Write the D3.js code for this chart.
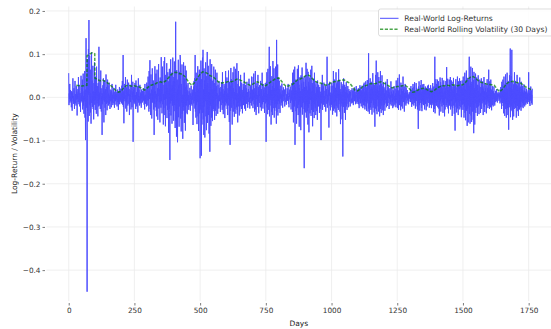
<!DOCTYPE html>
<html>
<head>
<meta charset="utf-8">
<script src="https://cdn.jsdelivr.net/npm/d3@7"></script>
<style>
  html, body { margin: 0; padding: 0; background: #fff; }
  svg { display: block; font-family: "DejaVu Sans", sans-serif; }
</style>
</head>
<body>
<svg id="chart" width="551" height="329"></svg>
<script>
// Daily log-returns, in thousandths (day index = position in the list)
const logReturnsPermille = [
  56,-18,9,-4,31,-12,5,17,-8,2,-23,14,6,-31,11,-2,44,-9,3,-15,21,-6,-27,12,38,-14,7,1,-19,26,-5,13,-42,8,-3,19,-11,47,4,-16,29,-7,-21,10,3,-34,15,50,-9,6,
  23,-12,41,-28,7,55,-19,3,-38,14,-9,61,-47,18,-99,32,137,-24,45,12,-450,88,-31,27,-56,112,6,179,-43,21,97,-18,64,-35,9,-61,28,104,-13,39,-22,5,73,-27,14,-51,33,-8,81,-17,
  12,-29,48,-6,17,-38,71,2,-14,26,-9,-44,33,8,-21,117,-19,11,-5,36,-27,15,62,-11,-33,4,21,-87,9,-16,28,-7,44,-3,-58,13,-10,39,-24,6,19,-41,53,-2,-15,24,-30,8,41,-12,
  28,-19,9,-6,34,-15,4,-27,18,-9,13,1,-23,16,-8,31,-12,6,-18,11,-3,22,-14,5,-24,12,-2,15,-9,29,-17,7,-5,13,-21,3,18,-11,6,-29,14,-7,10,24,-16,2,-10,20,-6,9,
  9,-14,27,-3,38,-17,6,98,-22,14,-60,11,-4,31,-9,17,47,-26,5,-12,23,-33,8,41,-6,-19,12,3,34,-15,19,-41,7,-2,29,-11,16,-28,4,52,-8,-23,13,-5,36,-103,18,-9,24,-14,
  22,-11,33,-16,5,-27,39,-4,12,-21,8,-7,26,-35,3,44,-12,17,-8,2,-19,29,-5,11,-14,7,-24,18,-3,9,-12,15,2,-9,21,-6,13,-17,4,-28,31,-10,6,-15,19,-2,-21,34,-7,12,
  27,-19,48,-8,15,-33,61,-4,22,86,-27,9,-41,53,-13,18,-49,6,67,-12,24,-7,39,-28,11,-87,33,-15,72,-23,14,-2,55,-31,8,-44,64,-9,21,-52,17,3,77,-26,35,-11,19,-58,46,-14,
  33,-24,93,-9,41,-37,18,71,-16,29,-63,8,-25,84,-6,93,-41,14,-67,52,-19,31,-3,79,-48,22,-29,58,-11,37,-82,13,-27,66,-35,-145,49,-14,88,-42,21,-8,57,-61,28,-19,92,-13,38,-54,
  47,-32,83,-18,36,-71,22,175,-54,12,-91,63,-27,41,-104,19,-9,87,-46,28,-68,59,-21,34,98,86,-49,17,-79,31,-13,76,-38,6,-96,53,-22,81,-31,7,-59,44,-14,73,-77,24,-36,62,-19,29,
  24,-39,16,-8,33,-21,5,-29,14,3,-17,22,-11,-31,9,-4,27,-15,2,-19,11,-6,18,-64,7,25,-14,38,-9,44,-26,98,-33,12,-47,57,-18,26,-62,35,-11,72,-44,19,-78,48,-22,64,-37,16,
  -141,59,-28,85,-14,-135,42,-63,24,92,-36,110,-51,18,-87,67,-21,39,-93,58,-9,81,-44,27,-76,49,-17,105,-59,33,-26,73,-41,12,-84,52,-31,-126,88,-19,43,-66,22,-47,77,-13,38,-55,18,-32,
  41,-27,71,-12,33,-52,19,-6,64,-31,14,-43,26,-3,57,-21,9,-38,29,-15,4,-26,37,-9,21,-7,13,-34,2,24,-18,35,-5,11,-29,58,-13,19,-39,8,1,31,-23,15,-48,27,-10,61,-19,6,
  33,-14,46,-27,9,-41,21,-4,62,-19,6,-57,36,-12,-110,27,-31,68,-7,42,-24,15,-63,34,-2,58,-33,21,-16,71,-45,12,-27,39,-5,66,-38,17,-23,47,79,-29,9,-58,31,-13,61,-21,26,-42,
  24,-33,16,-9,52,-21,6,-27,34,-4,17,-37,11,2,31,-18,23,-7,57,-26,3,-13,29,-31,9,-1,21,-15,36,-6,12,-24,5,3,19,-11,43,-17,-1,-26,14,-4,27,-13,8,-19,48,-2,15,-9,
  18,-25,47,-6,55,-16,21,-33,9,-1,61,-28,12,-41,26,-4,33,-17,5,-22,52,-9,24,-37,14,3,28,-13,6,-23,38,-2,11,-31,19,-7,57,-16,3,-26,31,-11,17,1,23,-36,9,-5,33,-14,
  21,-103,36,-11,58,-23,7,-39,66,-16,25,-29,12,117,-44,31,-19,72,-6,39,-63,17,-33,49,-13,26,-41,84,-25,34,-7,67,-47,21,-31,44,-15,71,-24,36,-61,133,-34,27,-16,76,-42,22,-9,45,
  -27,38,-14,19,-36,11,-3,27,-19,7,-12,32,1,16,-24,5,-9,23,2,14,-6,18,-21,3,4,26,-11,-1,-17,7,-2,21,-8,13,5,31,-15,3,-23,10,1,18,-5,25,-13,2,-28,16,-7,33,
  19,-34,57,-11,28,-58,64,-15,33,-21,71,-110,24,-7,41,-32,16,-61,38,-3,66,-25,11,-41,74,-17,29,-68,21,-9,47,-35,14,-76,51,-23,32,-6,69,-40,19,-27,46,-12,36,-71,-164,24,-31,49,
  -35,41,-19,80,-47,25,-9,66,-32,17,-63,59,-24,36,-81,27,-15,46,-37,21,-6,64,-43,14,-29,73,-20,33,-67,26,-11,43,-34,19,-48,57,-16,30,-25,9,-41,36,-7,24,-32,17,-52,39,-13,22,
  -21,29,-10,16,-36,24,-2,13,-26,7,-99,32,-14,21,-6,52,-29,9,1,25,-17,34,-11,3,-22,15,-4,27,-33,10,4,19,-15,94,-24,6,-12,31,-7,17,-70,23,3,36,-19,11,-30,5,-14,26,
  -17,34,-23,9,-40,27,-5,61,-31,16,-12,41,-26,4,-35,22,-9,58,-19,32,-44,15,-1,37,-24,10,-29,65,-16,25,-7,40,-33,19,-62,12,-21,35,-14,6,-51,27,-10,-137,31,-22,44,-15,21,-36,
  29,-17,24,-52,12,-6,35,-21,17,-29,10,-2,26,-15,7,-23,19,1,14,-10,8,-21,13,4,17,-9,-3,-14,21,8,-12,15,-6,-18,19,11,2,-9,23,-5,13,-16,6,-12,26,7,-4,-15,18,-10,
  12,-5,21,-16,9,-25,18,-3,28,-12,23,-14,9,-21,16,-4,27,-12,21,-25,11,-18,30,-7,34,-19,13,-28,25,-10,37,-21,16,-31,23,-14,40,-9,29,-33,18,102,-26,11,-38,30,-15,44,-23,19,
  -29,36,-13,25,-40,19,-7,56,-24,33,-18,11,-35,29,-10,-68,21,-26,52,-14,85,-31,18,-39,26,-5,58,-21,15,-33,47,-11,28,-44,20,-16,61,-27,9,-36,31,-19,51,-8,25,-30,16,-41,34,-13,
  23,-18,10,-31,19,-6,36,-14,3,-23,16,-9,42,-20,7,-13,25,-1,18,-27,11,-4,21,-16,5,-10,37,-19,13,0,23,-11,8,-25,17,-5,14,-21,26,-8,3,-17,20,-12,9,-23,39,-6,15,-14,
  21,-25,45,-10,16,-29,11,-4,53,-18,23,-13,6,-30,34,-9,19,-21,28,-3,14,-26,48,-11,18,-7,25,-33,10,-15,31,-6,13,-19,23,-1,9,-14,17,-5,11,-8,4,-16,7,0,12,-3,6,-10,
  19,-11,26,-6,17,-22,13,-3,21,-16,31,-5,15,-19,24,-9,35,-13,12,-26,16,-21,33,-8,22,-3,18,-28,13,-15,-73,25,-12,37,-18,15,-31,21,-6,28,-13,40,-24,13,-32,19,-9,30,-16,17,
  -18,31,-8,21,-28,18,-5,25,-15,15,-30,22,-6,17,-21,27,-10,19,-3,29,-13,14,-24,21,-12,12,-17,28,-9,18,-25,15,-5,22,-14,33,-18,13,-34,25,-9,19,-27,94,-37,25,-13,42,-19,31,
  -19,31,-11,41,-23,17,-6,37,-26,12,-42,24,-15,46,-9,35,-33,19,-4,28,-21,45,-12,21,-36,11,-17,39,-7,26,-44,15,-28,22,-3,38,-18,9,70,-22,31,-12,43,-26,16,-37,24,-8,41,-19,
  29,-14,47,-28,12,-21,39,-9,24,-43,18,-25,36,-5,45,-19,11,-38,26,-15,-77,30,-12,42,-22,10,-35,23,-7,48,-26,16,-41,37,-11,25,-20,44,-28,14,-8,38,-23,19,-46,27,-13,39,-17,22,
  -29,48,-15,27,-47,33,-21,57,-36,19,-53,39,-12,62,-31,23,-66,45,-26,17,-58,41,-19,34,94,-38,27,-61,46,-22,71,-42,31,-57,36,-17,68,-33,25,-52,40,-83,59,-28,21,-63,43,-14,55,-36,
  34,-24,46,-17,22,-43,29,-10,51,-21,15,-39,27,-12,41,-19,10,-36,24,-5,44,-27,18,-14,37,-8,25,-41,20,-11,47,-22,14,-34,33,-6,21,-17,28,-37,12,-15,42,-9,22,-25,17,-12,64,-20,
  16,-27,37,-11,21,-23,41,-7,18,-30,13,-4,26,-18,11,-21,14,-3,25,-15,9,-19,5,-11,15,-6,3,-9,19,2,6,-12,9,-3,12,2,8,-8,5,-5,11,-14,19,-2,24,-11,16,-27,36,-8,
  28,-13,41,-20,16,-37,48,-9,23,-43,30,-15,53,-27,12,-47,33,-18,57,-25,20,-41,38,-12,-75,31,-23,51,-16,27,113,-46,22,-29,49,-21,110,-32,18,-52,35,-13,30,-44,21,-27,58,-15,33,-23,
  38,-25,22,-47,30,-13,52,-20,27,-32,15,-43,33,-9,21,-28,46,-16,25,-23,12,-31,36,-10,19,-22,27,-13,16,-25,11,-18,30,-7,15,-21,23,-5,13,-17,8,-12,20,-3,11,-15,7,-10,16,-6,
  58,-11,18,-15,9,-20,13,-5,25,-8,16,-13,6,-17,20
];

// 30-day rolling volatility, in thousandths, at the listed days
const volDays = [29,39,49,59,69,70,79,89,99,100,109,119,129,139,149,159,169,179,189,199,209,219,229,239,249,259,269,279,289,299,309,319,329,339,349,359,369,379,389,399,409,419,429,439,449,459,469,479,489,499,509,519,529,539,549,559,569,579,589,599,609,619,629,639,649,659,669,679,689,699,709,719,729,739,749,759,769,779,789,799,809,819,829,839,849,859,869,879,889,899,909,919,929,939,949,959,969,979,989,999,1009,1019,1029,1039,1049,1059,1069,1079,1089,1099,1109,1119,1129,1139,1149,1159,1169,1179,1189,1199,1209,1219,1229,1239,1249,1259,1269,1279,1289,1299,1309,1319,1329,1339,1349,1359,1369,1379,1389,1399,1409,1419,1429,1439,1449,1459,1469,1479,1489,1499,1509,1519,1529,1539,1549,1559,1569,1579,1589,1599,1609,1619,1629,1639,1649,1659,1669,1679,1689,1699,1709,1719,1729,1739,1749,1759,1764];
const volPermille = [28,27,26,27,28,96,100,103,101,44,42,38,40,37,33,28,22,16,12,14,22,27,28,26,27,25,24,20,17,22,27,29,31,35,36,34,38,45,52,57,58,55,54,50,42,33,28,34,44,53,59,58,55,50,48,42,36,33,34,35,37,36,38,42,41,38,35,31,28,30,34,36,32,28,27,31,36,40,44,45,38,30,25,27,29,34,40,42,45,49,52,49,42,37,34,33,30,28,30,34,36,37,39,40,40,36,33,25,17,15,19,25,27,29,32,31,32,35,36,33,30,26,22,23,25,25,27,28,24,18,12,13,17,20,21,19,16,13,15,20,24,27,27,28,27,29,28,27,28,29,34,42,47,48,44,38,35,33,31,30,29,28,20,13,18,26,33,36,37,35,34,33,29,24,21,18,17];

const xTicks = [0, 250, 500, 750, 1000, 1250, 1500, 1750];
const yTicks = [-0.4, -0.3, -0.2, -0.1, 0.0, 0.1, 0.2];

const seriesNames = ["Real-World Log-Returns", "Real-World Rolling Volatility (30 Days)"];
const axisTitles = { x: "Days", y: "Log-Return / Volatility" };

const returns = logReturnsPermille.map((v, i) => ({ day: i, value: v / 1000 }));
const volatility = volDays.map((d, i) => ({ day: d, value: volPermille[i] / 1000 }));

// blue at 70% on white, drawn opaque so the dense trace does not darken itself
const returnsColor = "#4d4dff";
const volColor = "#008000";
const volDash = "3.2,1.6";

const svg = d3.select("#chart");
const plot = { left: 46.5, right: 551, top: 6.5, bottom: 301 };

const x = d3.scaleLinear().domain([-84.5, 1835]).range([plot.left, plot.right]);
const y = d3.scaleLinear().domain([-0.4715, 0.2103]).range([plot.bottom, plot.top]);

const fmtY = v => (v < 0 ? "\u2212" : "") + Math.abs(v).toFixed(1);

// grid
const grid = svg.append("g");
grid.selectAll("line.gx").data(xTicks).join("line")
  .attr("x1", d => x(d)).attr("x2", d => x(d))
  .attr("y1", plot.top).attr("y2", plot.bottom)
  .attr("stroke", "#ebebeb").attr("stroke-width", 0.8);
grid.selectAll("line.gy").data(yTicks).join("line")
  .attr("x1", plot.left).attr("x2", plot.right)
  .attr("y1", d => y(d)).attr("y2", d => y(d))
  .attr("stroke", "#ebebeb").attr("stroke-width", 0.8);

// axes (ticks offset from the plot area, no spines)
const xAxis = d3.axisBottom(x).tickValues(xTicks).tickSize(2.5).tickPadding(2.5).tickFormat(d3.format("d"));
const gx = svg.append("g").attr("transform", `translate(0,${plot.bottom + 2})`).call(xAxis);
const yAxis = d3.axisLeft(y).tickValues(yTicks).tickSize(2.5).tickPadding(2).tickFormat(fmtY);
const gy = svg.append("g").attr("transform", `translate(${plot.left - 1.5},0)`).call(yAxis);
[gx, gy].forEach(g => {
  g.select(".domain").remove();
  g.selectAll(".tick line").attr("stroke", "#444").attr("stroke-width", 0.7);
  g.selectAll(".tick text").attr("fill", "#333").style("font-size", "7.3px").style("font-family", "DejaVu Sans");
});

// series
svg.append("clipPath").attr("id", "plotclip").append("rect")
  .attr("x", plot.left).attr("y", plot.top)
  .attr("width", plot.right - plot.left).attr("height", plot.bottom - plot.top);

const lineGen = d3.line().x(d => x(d.day)).y(d => y(d.value));

svg.append("path").datum(returns)
  .attr("clip-path", "url(#plotclip)")
  .attr("d", lineGen)
  .attr("fill", "none")
  .attr("stroke", returnsColor)
  .attr("stroke-width", 1)
  .attr("stroke-linejoin", "round");

svg.append("path").datum(volatility)
  .attr("clip-path", "url(#plotclip)")
  .attr("d", lineGen)
  .attr("fill", "none")
  .attr("stroke", volColor).attr("stroke-opacity", 0.7)
  .attr("stroke-width", 1.5)
  .attr("stroke-dasharray", volDash);

// axis titles
svg.append("text").attr("x", (plot.left + plot.right) / 2).attr("y", 326)
  .attr("text-anchor", "middle").attr("fill", "#222")
  .style("font-size", "7.5px").text(axisTitles.x);
svg.append("text")
  .attr("transform", `translate(16.5,${(plot.top + plot.bottom) / 2}) rotate(-90)`)
  .attr("text-anchor", "middle").attr("fill", "#222")
  .style("font-size", "7.5px").text(axisTitles.y);

// legend
const legend = svg.append("g");
legend.append("rect")
  .attr("x", 378.5).attr("y", 9).attr("width", 180).attr("height", 27)
  .attr("rx", 2).attr("fill", "#fff").attr("fill-opacity", 0.85)
  .attr("stroke", "#d0d0d0").attr("stroke-width", 0.7);
const legendItems = [
  { name: seriesNames[0], color: returnsColor, opacity: 1, dash: null, width: 1 },
  { name: seriesNames[1], color: volColor, opacity: 0.7, dash: volDash, width: 1.5 }
];
legendItems.forEach((it, i) => {
  const cy = 18.3 + i * 11;
  legend.append("line")
    .attr("x1", 380).attr("x2", 398.5).attr("y1", cy).attr("y2", cy)
    .attr("stroke", it.color).attr("stroke-opacity", it.opacity)
    .attr("stroke-width", it.width)
    .attr("stroke-dasharray", it.dash);
  legend.append("text")
    .attr("x", 404.3).attr("y", cy + 2.7)
    .attr("fill", "#333").style("font-size", "7.6px")
    .text(it.name);
});
</script>
</body>
</html>
